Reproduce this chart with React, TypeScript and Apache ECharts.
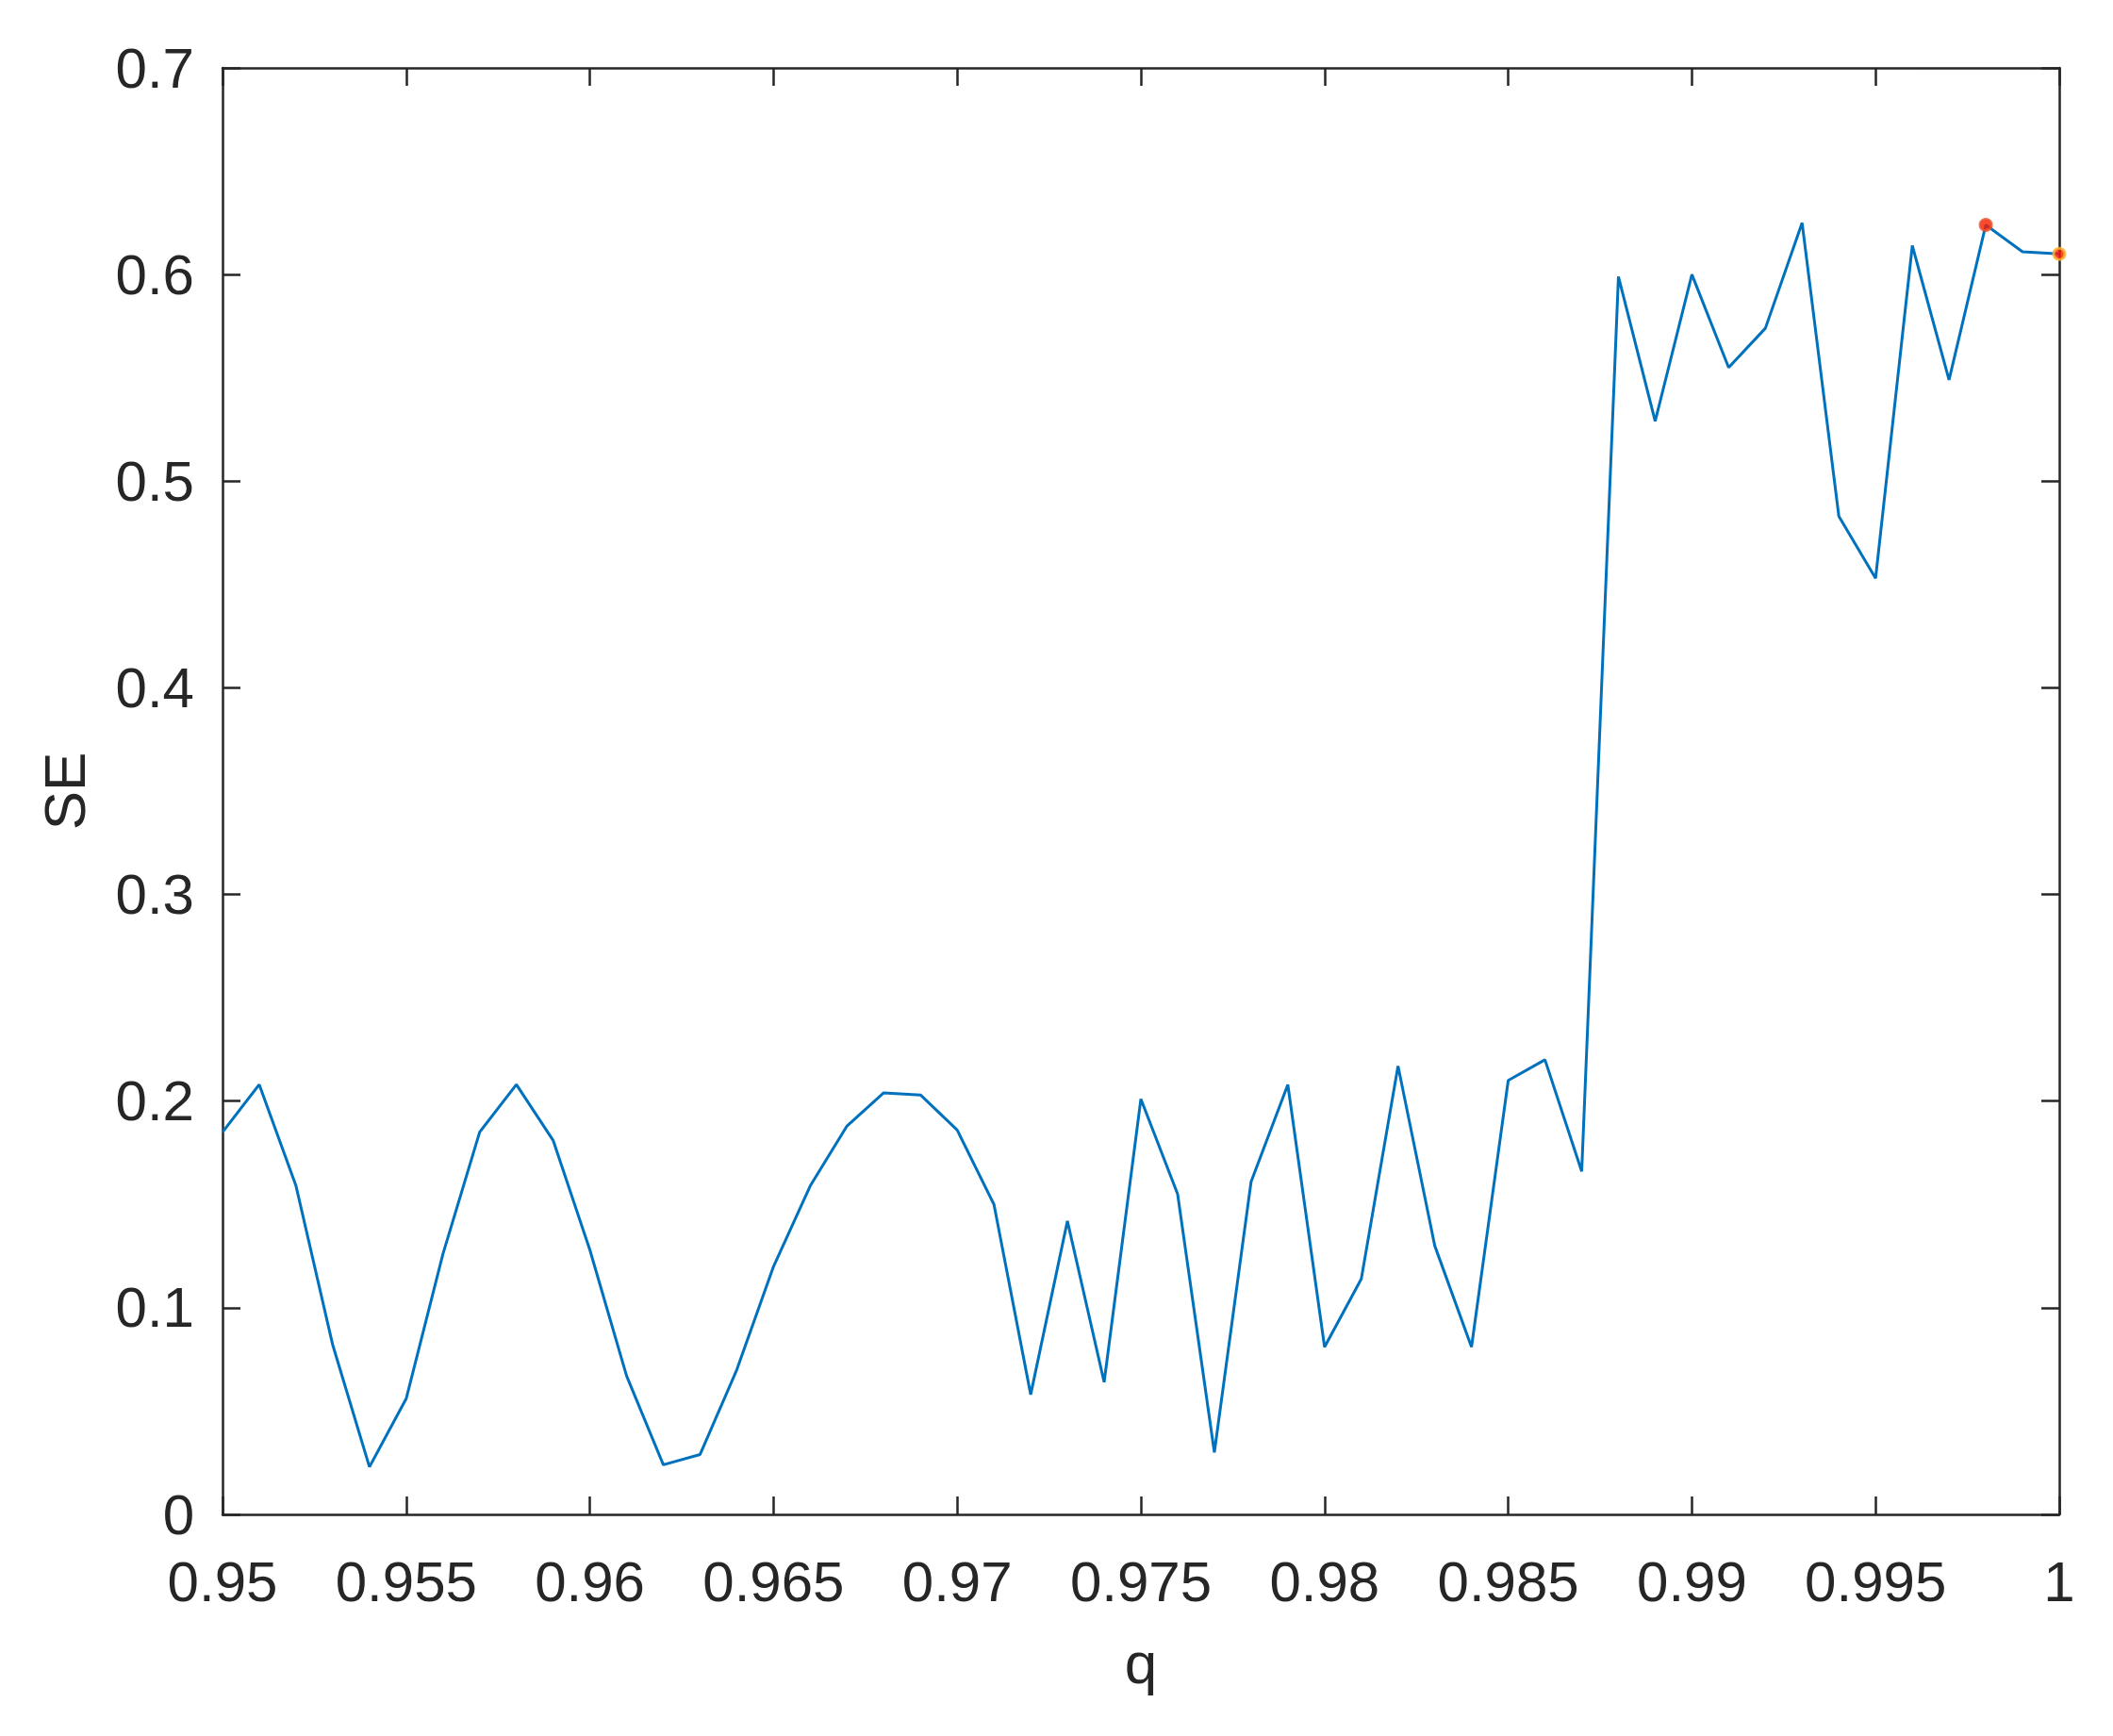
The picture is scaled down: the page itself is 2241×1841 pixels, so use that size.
import React, { useEffect, useRef } from "react";
import * as echarts from "echarts";

const qValues = [
  0.95, 0.951, 0.952, 0.953, 0.954, 0.955, 0.956, 0.957, 0.958, 0.959,
  0.96, 0.961, 0.962, 0.963, 0.964, 0.965, 0.966, 0.967, 0.968, 0.969,
  0.97, 0.971, 0.972, 0.973, 0.974, 0.975, 0.976, 0.977, 0.978, 0.979,
  0.98, 0.981, 0.982, 0.983, 0.984, 0.985, 0.986, 0.987, 0.988, 0.989,
  0.99, 0.991, 0.992, 0.993, 0.994, 0.995, 0.996, 0.997, 0.998, 0.999,
  1.0,
];

const seValues = [
  0.185, 0.208, 0.159, 0.082, 0.023, 0.056, 0.126, 0.185, 0.208, 0.181,
  0.128, 0.067, 0.024, 0.029, 0.07, 0.12, 0.159, 0.188, 0.204, 0.203,
  0.186, 0.15, 0.058, 0.142, 0.064, 0.201, 0.155, 0.03, 0.161, 0.208,
  0.081, 0.114, 0.217, 0.13, 0.081, 0.21, 0.22, 0.166, 0.599, 0.529,
  0.6, 0.555, 0.574, 0.625, 0.483, 0.453, 0.614, 0.549, 0.624, 0.611,
  0.61,
];

const highlightIdx = [48, 50];
const highlightBorders = ["#E8502A", "#F7B52C"];

const xTickLabels = ["0.95", "0.955", "0.96", "0.965", "0.97", "0.975", "0.98", "0.985", "0.99", "0.995", "1"];
const yTickLabels = ["0", "0.1", "0.2", "0.3", "0.4", "0.5", "0.6", "0.7"];

const X_MIN = 0.95;
const X_MAX = 1;
const X_STEP = 0.005;
const Y_MIN = 0;
const Y_MAX = 0.7;
const Y_STEP = 0.1;

const FONT = "'Liberation Sans', Arial, Helvetica, sans-serif";
const AXIS_COLOR = "#262626";
const LINE_COLOR = "#0072BD";

const mkAxisLine = () => ({ show: true, onZero: false, lineStyle: { color: AXIS_COLOR, width: 2.5 } });
const mkTick = () => ({ show: true, inside: true, length: 19, lineStyle: { color: AXIS_COLOR, width: 2.5 } });

export default function App() {
  const ref = useRef<HTMLDivElement>(null);

  useEffect(() => {
    if (!ref.current) return;
    const chart = echarts.init(ref.current, undefined, { renderer: "svg" });

    const lineData = qValues.map((q, i) => [q, seValues[i]]);
    const markData = highlightIdx.map((idx, j) => ({
      value: [qValues[idx], seValues[idx]],
      itemStyle: { color: "#FF1A00", borderColor: highlightBorders[j], borderWidth: 3 },
    }));

    const xFmt = (v: number) => {
      const i = Math.round((v - X_MIN) / X_STEP);
      return xTickLabels[i] ?? "";
    };
    const yFmt = (v: number) => {
      const i = Math.round((v - Y_MIN) / Y_STEP);
      return yTickLabels[i] ?? "";
    };

    chart.setOption({
      animation: false,
      backgroundColor: "#ffffff",
      grid: {
        left: 236,
        right: 57,
        top: 72,
        bottom: 235,
        containLabel: false,
        outerBoundsMode: "none",
      },
      xAxis: [
        {
          type: "value",
          position: "bottom",
          min: X_MIN,
          max: X_MAX,
          interval: X_STEP,
          name: "q",
          nameLocation: "middle",
          nameGap: 126,
          nameTextStyle: { fontSize: 62, color: AXIS_COLOR, fontFamily: FONT },
          axisLine: mkAxisLine(),
          axisTick: mkTick(),
          splitLine: { show: false },
          axisLabel: {
            show: true,
            interval: 0,
            showMinLabel: true,
            showMaxLabel: true,
            hideOverlap: false,
            margin: 41,
            fontSize: 60,
            color: AXIS_COLOR,
            fontFamily: FONT,
            formatter: xFmt,
          },
        },
        {
          type: "value",
          position: "top",
          min: X_MIN,
          max: X_MAX,
          interval: X_STEP,
          axisLine: mkAxisLine(),
          axisTick: mkTick(),
          splitLine: { show: false },
          axisLabel: { show: false },
        },
      ],
      yAxis: [
        {
          type: "value",
          position: "left",
          min: Y_MIN,
          max: Y_MAX,
          interval: Y_STEP,
          name: "SE",
          nameLocation: "middle",
          nameGap: 137,
          nameTextStyle: { fontSize: 62, color: AXIS_COLOR, fontFamily: FONT },
          axisLine: mkAxisLine(),
          axisTick: mkTick(),
          splitLine: { show: false },
          axisLabel: {
            show: true,
            margin: 30,
            fontSize: 60,
            color: AXIS_COLOR,
            fontFamily: FONT,
            formatter: yFmt,
          },
        },
        {
          type: "value",
          position: "right",
          min: Y_MIN,
          max: Y_MAX,
          interval: Y_STEP,
          axisLine: mkAxisLine(),
          axisTick: mkTick(),
          splitLine: { show: false },
          axisLabel: { show: false },
        },
      ],
      series: [
        {
          type: "line",
          xAxisIndex: 0,
          yAxisIndex: 0,
          data: lineData,
          showSymbol: false,
          symbol: "none",
          lineStyle: { color: LINE_COLOR, width: 3 },
          clip: false,
          z: 3,
        },
        {
          type: "scatter",
          xAxisIndex: 0,
          yAxisIndex: 0,
          data: markData,
          symbol: "circle",
          symbolSize: 12,
          clip: false,
          z: 4,
        },
      ],
    });

    return () => {
      chart.dispose();
    };
  }, []);

  return (
    <div
      ref={ref}
      style={{ position: "absolute", left: 0, top: 0, width: 2241, height: 1841, background: "#ffffff" }}
    />
  );
}
